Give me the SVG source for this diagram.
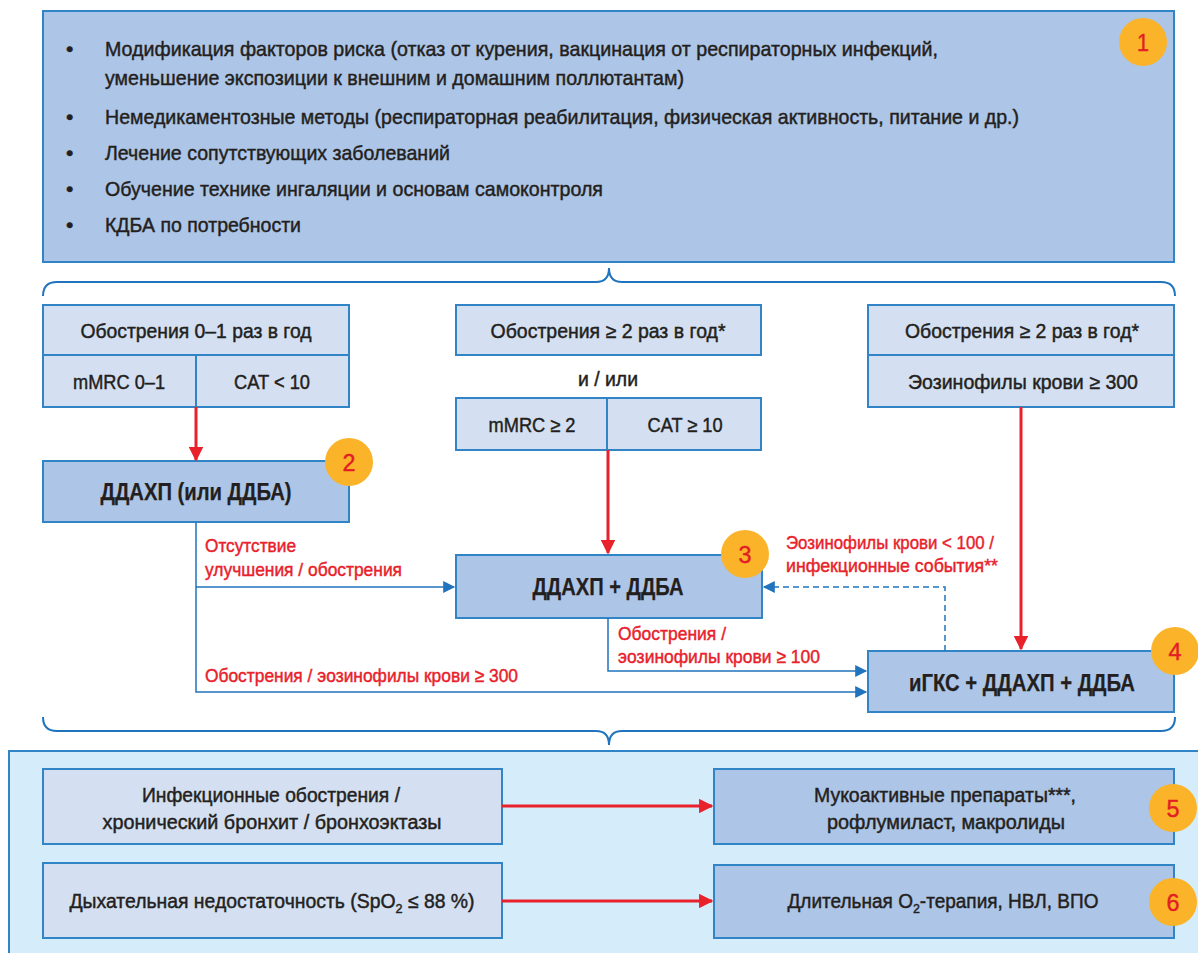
<svg xmlns="http://www.w3.org/2000/svg" width="1198" height="953" viewBox="0 0 1198 953">
<style>
text{font-family:"Liberation Sans",Arial,sans-serif;fill:#231f20;stroke:#231f20;stroke-width:0.45}
.t{font-size:21px}
.h{font-size:20px;text-anchor:middle}
.b{font-size:24px;font-weight:bold;text-anchor:middle;stroke-width:0.25}
.r{font-size:19px;fill:#e8212b;stroke:#e8212b}
.n{font-size:24px;fill:#e31e24;stroke:#e31e24;text-anchor:middle}
.lt{fill:#d4e0f1;stroke:#3184c6;stroke-width:2}
.md{fill:#adc5e6;stroke:#3184c6;stroke-width:2}
.bd{fill:#fbb42a}
.red{stroke:#e8212b;stroke-width:3;fill:none}
.blu{stroke:#1f74bd;stroke-width:1.5;fill:none}
.brace{stroke:#1f74bd;stroke-width:2;fill:none}
.sub{font-size:13px;baseline-shift:-5px}
</style>
<defs>
<marker id="ar" viewBox="0 0 10 10" refX="9" refY="5" markerWidth="4.8" markerHeight="4.8" orient="auto" markerUnits="strokeWidth"><path d="M0,0L10,5L0,10z" fill="#e8212b"/></marker>
<marker id="ab" viewBox="0 0 10 10" refX="9" refY="5" markerWidth="10" markerHeight="8" orient="auto" markerUnits="strokeWidth"><path d="M0,0L10,5L0,10z" fill="#1f74bd"/></marker>
</defs>

<g id="panel-top">
<rect x="43" y="11" width="1131" height="251" class="md"/>
<g class="t">
<text x="66" y="56">•</text><text x="105" y="56" textLength="833" lengthAdjust="spacingAndGlyphs">Модификация факторов риска (отказ от курения, вакцинация от респираторных инфекций,</text>
<text x="105" y="85" textLength="579" lengthAdjust="spacingAndGlyphs">уменьшение экспозиции к внешним и домашним поллютантам)</text>
<text x="66" y="124">•</text><text x="105" y="124" textLength="914" lengthAdjust="spacingAndGlyphs">Немедикаментозные методы (респираторная реабилитация, физическая активность, питание и др.)</text>
<text x="66" y="160">•</text><text x="105" y="160" textLength="345" lengthAdjust="spacingAndGlyphs">Лечение сопутствующих заболеваний</text>
<text x="66" y="196">•</text><text x="105" y="196" textLength="498" lengthAdjust="spacingAndGlyphs">Обучение технике ингаляции и основам самоконтроля</text>
<text x="66" y="232">•</text><text x="105" y="232" textLength="196" lengthAdjust="spacingAndGlyphs">КДБА по потребности</text>
</g>
<circle cx="1143" cy="42" r="24" class="bd"/><text x="1143" y="51" class="n" textLength="12" lengthAdjust="spacingAndGlyphs">1</text>
</g>

<path class="brace" d="M43,296 Q43,282 57,282 L596,282 Q609,282 609,268 Q609,282 622,282 L1161,282 Q1175,282 1175,296"/>
<path class="brace" d="M43,717 Q43,731 57,731 L596,731 Q609,731 609,745 Q609,731 622,731 L1161,731 Q1175,731 1175,717"/>

<g id="crit-left">
<rect x="43" y="305" width="306" height="50" class="lt"/>
<rect x="43" y="355" width="153" height="52" class="lt"/>
<rect x="196" y="355" width="153" height="52" class="lt"/>
<text x="196" y="338" class="h" textLength="231" lengthAdjust="spacingAndGlyphs">Обострения 0–1 раз в год</text>
<text x="119" y="389" class="h" textLength="92" lengthAdjust="spacingAndGlyphs">mMRC 0–1</text>
<text x="272" y="389" class="h" textLength="76" lengthAdjust="spacingAndGlyphs">CAT &lt; 10</text>
</g>

<g id="crit-mid">
<rect x="456" y="305" width="305" height="50" class="lt"/>
<text x="608" y="338" class="h" textLength="235" lengthAdjust="spacingAndGlyphs">Обострения ≥ 2 раз в год*</text>
<text x="608" y="386" class="h" textLength="60" lengthAdjust="spacingAndGlyphs">и / или</text>
<rect x="456" y="398" width="151" height="52" class="lt"/>
<rect x="607" y="398" width="154" height="52" class="lt"/>
<text x="532" y="432" class="h" textLength="87" lengthAdjust="spacingAndGlyphs">mMRC ≥ 2</text>
<text x="685" y="432" class="h" textLength="75" lengthAdjust="spacingAndGlyphs">CAT ≥ 10</text>
</g>

<g id="crit-right">
<rect x="868" y="305" width="306" height="50" class="lt"/>
<rect x="868" y="355" width="306" height="52" class="lt"/>
<text x="1022" y="338" class="h" textLength="234" lengthAdjust="spacingAndGlyphs">Обострения ≥ 2 раз в год*</text>
<text x="1023" y="389" class="h" textLength="230" lengthAdjust="spacingAndGlyphs">Эозинофилы крови ≥ 300</text>
</g>

<g id="node2">
<rect x="43" y="461" width="306" height="61" class="md"/>
<text x="196" y="500" class="b" textLength="191" lengthAdjust="spacingAndGlyphs">ДДАХП (или ДДБА)</text>
<circle cx="349" cy="462" r="24" class="bd"/><text x="349" y="471" class="n" textLength="13" lengthAdjust="spacingAndGlyphs">2</text>
</g>

<g id="node3">
<rect x="456" y="555" width="306" height="63" class="md"/>
<text x="608" y="595" class="b" textLength="151" lengthAdjust="spacingAndGlyphs">ДДАХП + ДДБА</text>
<circle cx="745" cy="554" r="24" class="bd"/><text x="745" y="563" class="n" textLength="13" lengthAdjust="spacingAndGlyphs">3</text>
</g>

<g id="node4">
<rect x="868" y="651" width="306" height="61" class="md"/>
<text x="1022" y="691" class="b" textLength="226" lengthAdjust="spacingAndGlyphs">иГКС + ДДАХП + ДДБА</text>
<circle cx="1175" cy="651" r="24" class="bd"/><text x="1175" y="660" class="n" textLength="13" lengthAdjust="spacingAndGlyphs">4</text>
</g>

<g id="panel-bottom">
<rect x="9" y="751" width="1200" height="210" fill="#d5edfa" stroke="#3184c6" stroke-width="2"/>
</g>

<g id="node5a">
<rect x="43" y="769" width="459" height="75" class="lt"/>
<text x="271" y="802" class="h" textLength="258" lengthAdjust="spacingAndGlyphs">Инфекционные обострения /</text>
<text x="272" y="829" class="h" textLength="339" lengthAdjust="spacingAndGlyphs">хронический бронхит / бронхоэктазы</text>
</g>
<g id="node6a">
<rect x="43" y="863" width="459" height="75" class="lt"/>
<text x="272" y="908" class="h" textLength="405" lengthAdjust="spacingAndGlyphs">Дыхательная недостаточность (SpO<tspan class="sub">2</tspan> ≤ 88 %)</text>
</g>
<g id="node5b">
<rect x="714" y="769" width="460" height="75" class="md"/>
<text x="945" y="802" class="h" textLength="262" lengthAdjust="spacingAndGlyphs">Мукоактивные препараты***,</text>
<text x="946" y="829" class="h" textLength="238" lengthAdjust="spacingAndGlyphs">рофлумиласт, макролиды</text>
<circle cx="1173" cy="808" r="24" class="bd"/><text x="1173" y="817" class="n" textLength="13" lengthAdjust="spacingAndGlyphs">5</text>
</g>
<g id="node6b">
<rect x="714" y="865" width="460" height="73" class="md"/>
<text x="943" y="908" class="h" textLength="311" lengthAdjust="spacingAndGlyphs">Длительная O<tspan class="sub">2</tspan>-терапия, НВЛ, ВПО</text>
<circle cx="1173" cy="902" r="24" class="bd"/><text x="1173" y="911" class="n" textLength="13" lengthAdjust="spacingAndGlyphs">6</text>
</g>

<g id="connectors">
<line x1="196" y1="407" x2="196" y2="460" class="red" marker-end="url(#ar)"/>
<line x1="608" y1="450" x2="608" y2="553" class="red" marker-end="url(#ar)"/>
<line x1="1021" y1="407" x2="1021" y2="649" class="red" marker-end="url(#ar)"/>
<line x1="502" y1="806" x2="712" y2="806" class="red" marker-end="url(#ar)"/>
<line x1="502" y1="901" x2="712" y2="901" class="red" marker-end="url(#ar)"/>
<path d="M196,522 V692 H866" class="blu" marker-end="url(#ab)"/>
<path d="M196,587 H454" class="blu" marker-end="url(#ab)"/>
<path d="M608,618 V671 H866" class="blu" marker-end="url(#ab)"/>
<path d="M945,651 V587 H764" class="blu" stroke-dasharray="6,4" marker-end="url(#ab)"/>
<text x="205" y="552" class="r" textLength="91" lengthAdjust="spacingAndGlyphs">Отсутствие</text>
<text x="205" y="576" class="r" textLength="197" lengthAdjust="spacingAndGlyphs">улучшения / обострения</text>
<text x="205" y="682" class="r" textLength="313" lengthAdjust="spacingAndGlyphs">Обострения / эозинофилы крови ≥ 300</text>
<text x="618" y="640" class="r" textLength="108" lengthAdjust="spacingAndGlyphs">Обострения /</text>
<text x="618" y="663" class="r" textLength="202" lengthAdjust="spacingAndGlyphs">эозинофилы крови ≥ 100</text>
<text x="786" y="549" class="r" textLength="208" lengthAdjust="spacingAndGlyphs">Эозинофилы крови &lt; 100 /</text>
<text x="786" y="572" class="r" textLength="212" lengthAdjust="spacingAndGlyphs">инфекционные события**</text>
</g>
</svg>
